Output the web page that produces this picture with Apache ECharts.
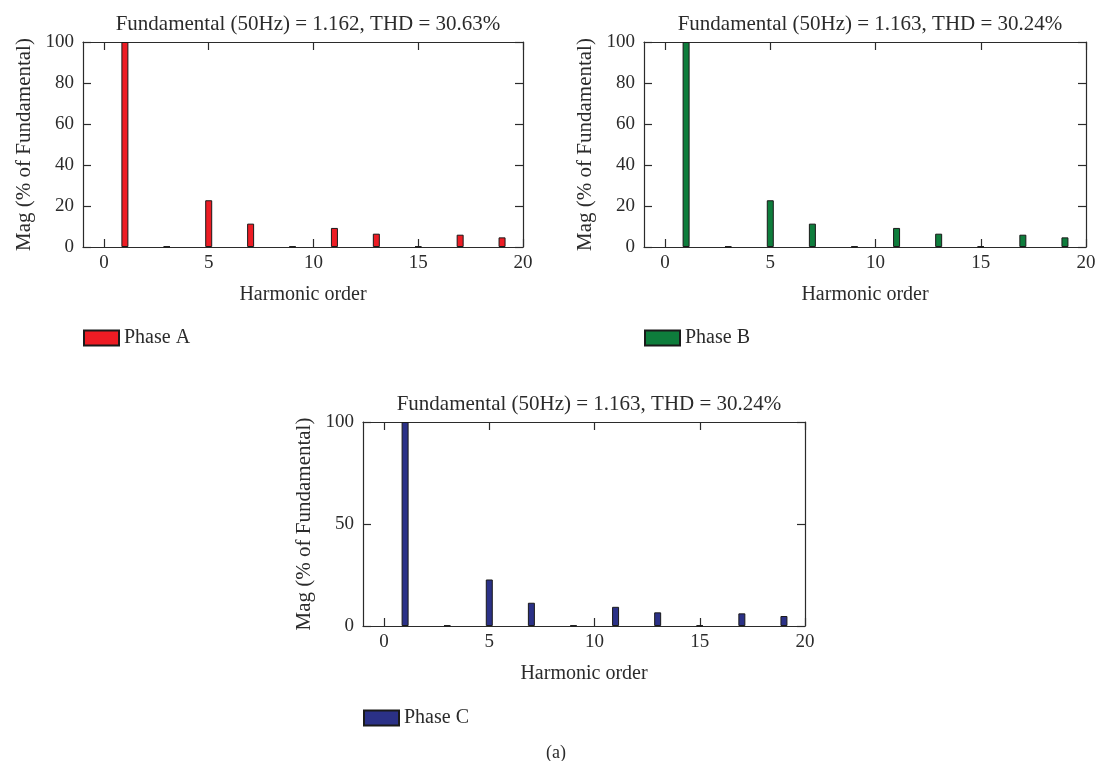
<!DOCTYPE html>
<html>
<head>
<meta charset="utf-8">
<script src="https://cdn.jsdelivr.net/npm/echarts@6/dist/echarts.min.js"></script>
<style>
  html, body { margin: 0; padding: 0; background: #fff; }
  #main { width: 1102px; height: 761px; }
</style>
</head>
<body>
<div id="main"></div>
<script>
// harmonic orders shown as bars
var harmonicOrders = [1, 3, 5, 7, 9, 11, 13, 15, 17, 19];
// magnitudes (% of fundamental) per phase
var phaseA = [100, 0.3, 22.8, 11.4, 0.3, 9.3, 6.5, 0.3, 6.0, 4.7];
var phaseB = [100, 0.3, 22.8, 11.4, 0.3, 9.3, 6.5, 0.3, 6.0, 4.7];
var phaseC = [100, 0.3, 22.8, 11.4, 0.3, 9.4, 6.7, 0.3, 6.2, 4.9];
var xTicks = [0, 5, 10, 15, 20];
var titles = [
    'Fundamental (50Hz) = 1.162, THD = 30.63%',
    'Fundamental (50Hz) = 1.163, THD = 30.24%',
    'Fundamental (50Hz) = 1.163, THD = 30.24%'
];
var phaseNames = ['Phase A', 'Phase B', 'Phase C'];
var phaseColors = ['#ed1c24', '#0e7d3c', '#2b3187'];

var font = 'Liberation Serif';
var ink = '#2b2b2b';

var chart = echarts.init(document.getElementById('main'));

// plot boxes
var boxes = [
    {left: 83, top: 42, width: 440, height: 205, yInt: 20},
    {left: 644, top: 42, width: 442, height: 205, yInt: 20},
    {left: 363, top: 422, width: 442, height: 204, yInt: 50}
];

function pairs(vals) {
    return harmonicOrders.map(function (h, i) { return [h, vals[i]]; });
}
var allData = [phaseA, phaseB, phaseC];

var grid = [], xAxis = [], yAxis = [], series = [], title = [], legend = [];
boxes.forEach(function (b, i) {
    grid.push({left: b.left, top: b.top, width: b.width, height: b.height});
    var lineSt = {color: ink, width: 1.2};
    // bottom axis
    xAxis.push({
        type: 'value', gridIndex: i, min: -1, max: 20, position: 'bottom',
        name: 'Harmonic order', nameLocation: 'middle', nameGap: 38,
        nameTextStyle: {fontFamily: font, fontSize: 20, color: ink},
        axisLine: {show: true, onZero: false, lineStyle: lineSt},
        axisTick: {show: true, inside: true, length: 8, lineStyle: lineSt, customValues: xTicks},
        axisLabel: {fontFamily: font, fontSize: 19, color: ink, margin: 7, customValues: xTicks},
        splitLine: {show: false}
    });
    // top mirror axis
    xAxis.push({
        type: 'value', gridIndex: i, min: -1, max: 20, position: 'top',
        axisLine: {show: true, onZero: false, lineStyle: lineSt},
        axisTick: {show: true, inside: true, length: 8, lineStyle: lineSt, customValues: xTicks},
        axisLabel: {show: false},
        splitLine: {show: false}
    });
    yAxis.push({
        type: 'value', gridIndex: i, min: 0, max: 100, interval: b.yInt, position: 'left',
        name: 'Mag (% of Fundamental)', nameLocation: 'middle', nameGap: 48, nameRotate: 90,
        nameTextStyle: {fontFamily: font, fontSize: 21, color: ink},
        axisLine: {show: true, onZero: false, lineStyle: lineSt},
        axisTick: {show: true, inside: true, length: 8, lineStyle: lineSt},
        axisLabel: {fontFamily: font, fontSize: 19, color: ink, margin: 9},
        splitLine: {show: false}
    });
    // right mirror axis
    yAxis.push({
        type: 'value', gridIndex: i, min: 0, max: 100, interval: b.yInt, position: 'right',
        axisLine: {show: true, onZero: false, lineStyle: lineSt},
        axisTick: {show: true, inside: true, length: 8, lineStyle: lineSt},
        axisLabel: {show: false},
        splitLine: {show: false}
    });
    series.push({
        name: phaseNames[i], type: 'bar',
        xAxisIndex: i * 2, yAxisIndex: i * 2,
        barWidth: 7,
        itemStyle: {color: phaseColors[i], borderColor: '#1a1a1a', borderWidth: 1},
        data: pairs(allData[i])
    });
    title.push({
        text: titles[i], left: b.left + b.width / 2, top: b.top - 33, textAlign: 'center',
        textStyle: {fontFamily: font, fontSize: 21, fontWeight: 'normal', color: ink}
    });
    legend.push({
        data: [phaseNames[i]], left: b.left, top: b.top + 286, padding: 0,
        icon: 'rect', itemWidth: 35, itemHeight: 15,
        textStyle: {fontFamily: font, fontSize: 20, color: ink}
    });
});
title.push({
    text: '(a)', left: 551, top: 739, textAlign: 'center',
    textStyle: {fontFamily: font, fontSize: 18, fontWeight: 'normal', color: ink}
});

chart.setOption({
    animation: false,
    title: title,
    legend: legend,
    grid: grid,
    xAxis: xAxis,
    yAxis: yAxis,
    series: series
});
</script>
</body>
</html>
